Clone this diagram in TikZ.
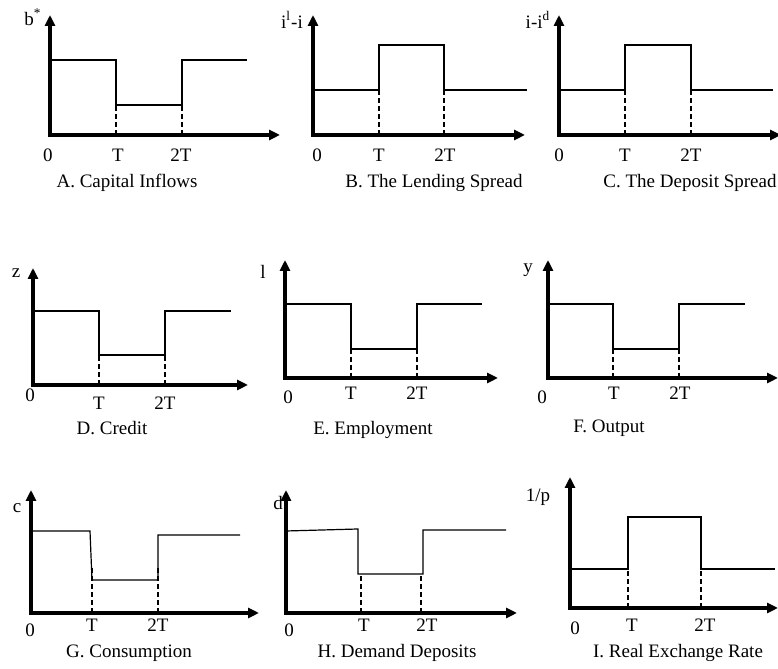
\documentclass[tikz,border=0pt]{standalone}
\usepackage{fontspec}
\setmainfont{Liberation Serif}
\usetikzlibrary{arrows.meta}
\tikzset{
    axes/.style={{Triangle[length=5.5pt,width=5pt]}-{Triangle[length=5.5pt,width=5pt]}, line width=1.6pt},
    level/.style={line width=0.6pt},
    guide/.style={line width=1.3pt, dash pattern=on 2.5pt off 1.5pt},
    lbl/.style={font=\fontsize{9.5}{11}\selectfont, inner sep=0pt}
}
\begin{document}
\begin{tikzpicture}[x=0.5pt, y=0.5pt]
    \useasboundingbox (0,0) rectangle (778,669);
    % A. Capital Inflows
    \begin{scope}[shift={(50,534)}]
        \coordinate (Ao) at (0,0);
        \draw[axes] (0,120) -- (Ao) -- (230,0);
        \draw[level] (0,75) -- (66,75) coordinate (A1) -- (66,30) -- (132,30) -- (132,75) coordinate (A2) -- (197,75);
        \draw[guide] (66,0) -- (66,60); \draw[guide] (132,0) -- (132,60);
        \node[lbl] (Avar) at (-17,118) {b\textsuperscript{*}};
        \node[lbl] (A0) at (-2,-20) {0};
        \node[lbl] (AT) at (68,-20) {T};
        \node[lbl] (A2T) at (131,-20) {2T};
        \node[lbl] (Acap) at (77,-48) {A. Capital Inflows};
    \end{scope}
    % B. The Lending Spread
    \begin{scope}[shift={(313,534)}]
        \coordinate (Bo) at (0,0);
        \draw[axes] (0,120) -- (Bo) -- (212,0);
        \draw[level] (0,45) -- (66,45) -- (66,90) -- (131,90) -- (131,45) -- (214,45);
        \draw[guide] (66,0) -- (66,45); \draw[guide] (131,0) -- (131,45);
        \node[lbl] (Bvar) at (-21,115) {i\textsuperscript{l}-i};
        \node[lbl] (B0) at (4,-20) {0};
        \node[lbl] (BT) at (66,-20) {T};
        \node[lbl] (B2T) at (132,-20) {2T};
        \node[lbl] (Bcap) at (121,-48) {B. The Lending Spread};
    \end{scope}
    % C. The Deposit Spread
    \begin{scope}[shift={(559,534)}]
        \coordinate (Co) at (0,0);
        \draw[axes] (0,120) -- (Co) -- (222,0);
        \draw[level] (0,45) -- (66,45) -- (66,90) -- (132,90) -- (132,45) -- (214,45);
        \draw[guide] (66,0) -- (66,45); \draw[guide] (132,0) -- (132,45);
        \node[lbl] (Cvar) at (-21,115) {i-i\textsuperscript{d}};
        \node[lbl] (C0) at (0,-20) {0};
        \node[lbl] (CT) at (66,-20) {T};
        \node[lbl] (C2T) at (132,-20) {2T};
        \node[lbl] (Ccap) at (131,-48) {C. The Deposit Spread};
    \end{scope}
    % D. Credit
    \begin{scope}[shift={(33,284)}]
        \coordinate (Do) at (0,0);
        \draw[axes] (0,117) -- (Do) -- (215,0);
        \draw[level] (0,74) -- (66,74) -- (66,30) -- (132,30) -- (132,74) -- (198,74);
        \draw[guide] (66,0) -- (66,30); \draw[guide] (132,0) -- (132,30);
        \node[lbl] (Dvar) at (-17,112) {z};
        \node[lbl] (D0) at (-3,-10) {0};
        \node[lbl] (DT) at (66,-18) {T};
        \node[lbl] (D2T) at (132,-18) {2T};
        \node[lbl] (Dcap) at (79,-43) {D. Credit};
    \end{scope}
    % E. Employment
    \begin{scope}[shift={(285,291)}]
        \coordinate (Eo) at (0,0);
        \draw[axes] (0,118) -- (Eo) -- (213,0);
        \draw[level] (0,74) -- (66,74) -- (66,29) -- (132,29) -- (132,74) -- (197,74);
        \draw[guide] (66,0) -- (66,35); \draw[guide] (132,0) -- (132,35);
        \node[lbl] (Evar) at (-22,106) {l};
        \node[lbl] (E0) at (3,-19) {0};
        \node[lbl] (ET) at (66,-15) {T};
        \node[lbl] (E2T) at (132,-15) {2T};
        \node[lbl] (Ecap) at (88,-52) {E. Employment};
    \end{scope}
    % F. Output
    \begin{scope}[shift={(548,291)}]
        \coordinate (Fo) at (0,0);
        \draw[axes] (0,118) -- (Fo) -- (230,0);
        \draw[level] (0,74) -- (65,74) -- (65,29) -- (131,29) -- (131,74) -- (197,74);
        \draw[guide] (65,0) -- (65,45); \draw[guide] (131,0) -- (131,45);
        \node[lbl] (Fvar) at (-20,108) {y};
        \node[lbl] (F0) at (-6,-19) {0};
        \node[lbl] (FT) at (66,-15) {T};
        \node[lbl] (F2T) at (132,-15) {2T};
        \node[lbl] (Fcap) at (61,-50) {F. Output};
    \end{scope}
    % G. Consumption
    \begin{scope}[shift={(31,56)}]
        \coordinate (Go) at (0,0);
        \draw[axes] (0,123) -- (Go) -- (228,0);
        \draw[level] (0,82) -- (59,82) -- (61,33) -- (127,33) -- (127,78) -- (209,78);
        \draw[guide] (61,0) -- (61,48); \draw[guide] (127,0) -- (127,48);
        \node[lbl] (Gvar) at (-14,105) {c};
        \node[lbl] (G0) at (-1,-17) {0};
        \node[lbl] (GT) at (61,-12) {T};
        \node[lbl] (G2T) at (127,-12) {2T};
        \node[lbl] (Gcap) at (98,-40) {G. Consumption};
    \end{scope}
    % H. Demand Deposits
    \begin{scope}[shift={(286,56)}]
        \coordinate (Ho) at (0,0);
        \draw[axes] (0,123) -- (Ho) -- (231,0);
        \draw[level] (0,82) -- (72,84) -- (72,39) -- (137,39) -- (137,83) -- (220,83);
        \draw[guide] (75,0) -- (75,39); \draw[guide] (135,0) -- (135,39);
        \node[lbl] (Hvar) at (-8,110) {d};
        \node[lbl] (H0) at (3,-17) {0};
        \node[lbl] (HT) at (78,-12) {T};
        \node[lbl] (H2T) at (141,-12) {2T};
        \node[lbl] (Hcap) at (111,-40) {H. Demand Deposits};
    \end{scope}
    % I. Real Exchange Rate
    \begin{scope}[shift={(570,61)}]
        \coordinate (Io) at (0,0);
        \draw[axes] (0,131) -- (Io) -- (208,0);
        \draw[level] (0,39) -- (58,39) -- (58,91) -- (131,91) -- (131,39) -- (205,39);
        \draw[guide] (58,0) -- (58,39); \draw[guide] (131,0) -- (131,39);
        \node[lbl] (Ivar) at (-32,111) {1/p};
        \node[lbl] (I0) at (5,-20) {0};
        \node[lbl] (IT) at (62,-17) {T};
        \node[lbl] (I2T) at (135,-17) {2T};
        \node[lbl] (Icap) at (108,-45) {I. Real Exchange Rate};
    \end{scope}
\end{tikzpicture}
\end{document}
